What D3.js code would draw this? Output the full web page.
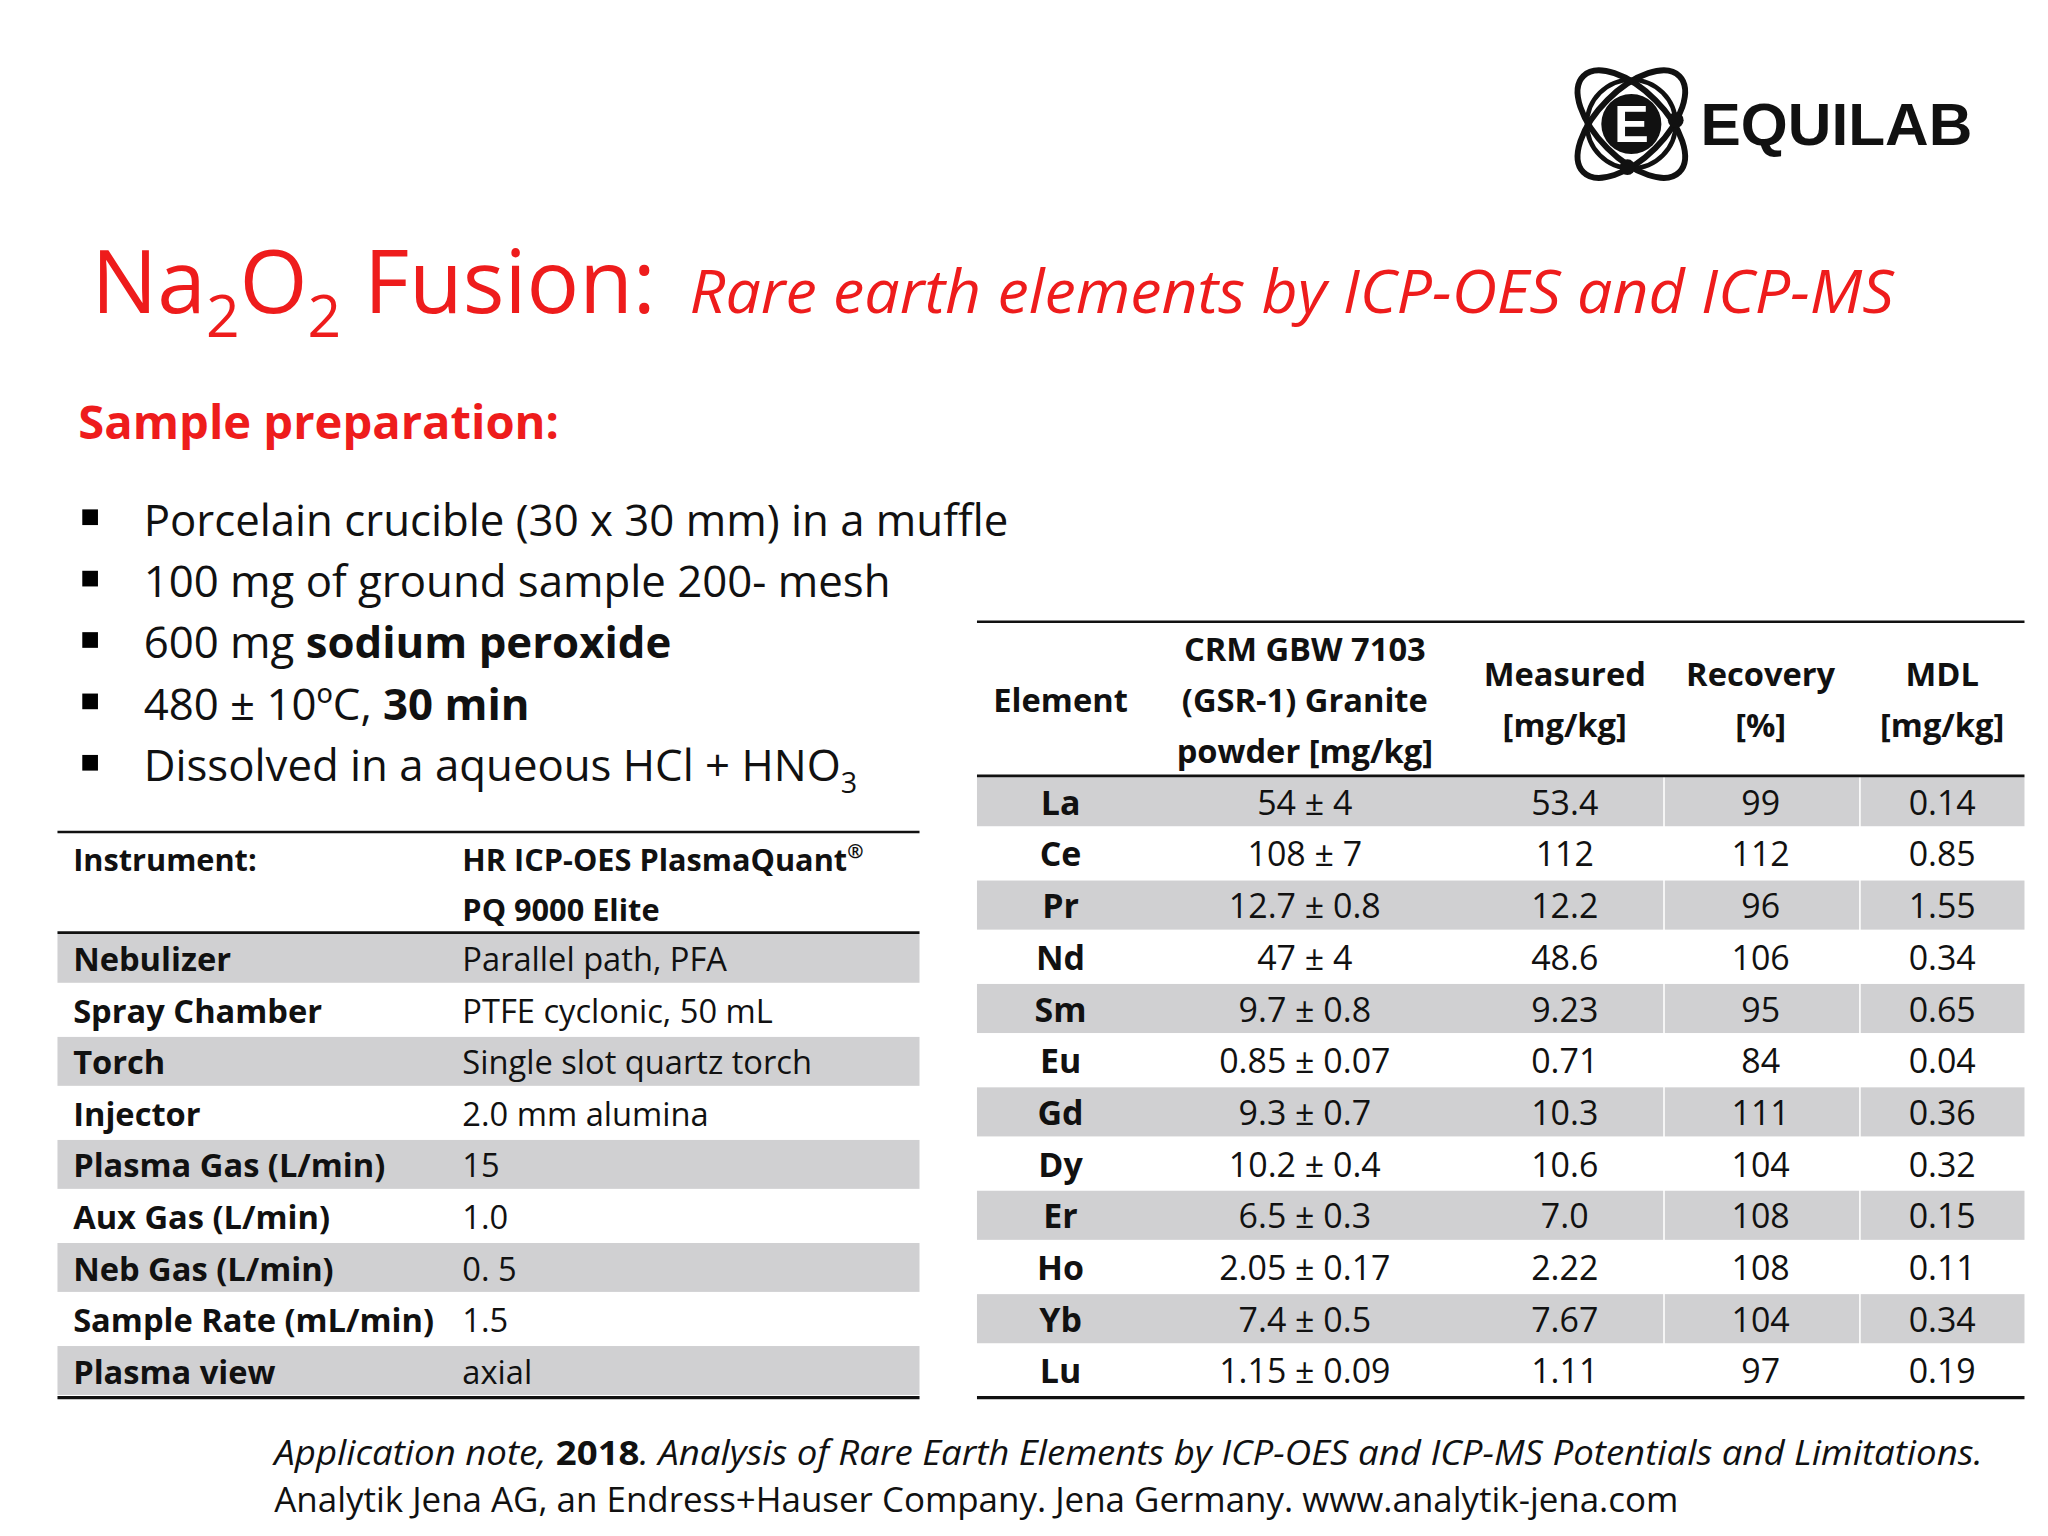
<!DOCTYPE html>
<html><head><meta charset="utf-8">
<script src="https://cdn.jsdelivr.net/npm/d3@7"></script>
<style>body{margin:0;background:#fff}svg{display:block}</style>
</head><body>
<script>
const bullets = [
  [["Porcelain crucible (30 x 30 mm)  in a muffle",false]],
  [["100 mg of ground sample 200- mesh",false]],
  [["600 mg ",false],["sodium peroxide",true]],
  [["480 ± 10ºC, ",false],["30 min",true]],
  [["Dissolved in a aqueous HCl + HNO",false],["3",false,"sub"]]
];
const instLabels = ["Nebulizer","Spray Chamber","Torch","Injector","Plasma Gas (L/min)","Aux Gas (L/min)","Neb Gas (L/min)","Sample Rate (mL/min)","Plasma view"];
const instValues = ["Parallel path, PFA","PTFE cyclonic, 50 mL","Single slot quartz torch","2.0 mm alumina","15","1.0","0. 5","1.5","axial"];
const elements = ["La","Ce","Pr","Nd","Sm","Eu","Gd","Dy","Er","Ho","Yb","Lu"];
const crm = ["54 ± 4","108 ± 7","12.7 ± 0.8","47 ± 4","9.7 ± 0.8","0.85 ± 0.07","9.3 ± 0.7","10.2 ± 0.4","6.5 ± 0.3","2.05 ± 0.17","7.4 ± 0.5","1.15 ± 0.09"];
const measured = ["53.4","112","12.2","48.6","9.23","0.71","10.3","10.6","7.0","2.22","7.67","1.11"];
const recovery = ["99","112","96","106","95","84","111","104","108","108","104","97"];
const mdl = ["0.14","0.85","1.55","0.34","0.65","0.04","0.36","0.32","0.15","0.11","0.34","0.19"];

const F = "'Open Sans', sans-serif";
const svg = d3.select("body").append("svg").attr("width",2048).attr("height",1536).attr("viewBox","0 0 1568 1176");
const red = "#ee1c1c";

// Logo
const lg = svg.append("g").attr("transform","translate(1249,95)");
[-45,45].forEach(a=>{
  lg.append("ellipse").attr("rx",52).attr("ry",26).attr("transform",`rotate(${a})`).attr("fill","none").attr("stroke","#111").attr("stroke-width",4.5);
});
lg.append("circle").attr("r",34).attr("fill","none").attr("stroke","#111").attr("stroke-width",3.5);
lg.append("circle").attr("r",23).attr("fill","#111");
lg.append("text").attr("y",14).attr("text-anchor","middle").attr("font-family","'Liberation Sans',Arial").attr("font-weight",900).attr("font-size",40).attr("fill","#fff").text("E");
lg.append("circle").attr("cx",34).attr("cy",-3).attr("r",6).attr("fill","#111");
lg.append("circle").attr("cx",-3).attr("cy",33).attr("r",6).attr("fill","#111");
svg.append("text").attr("x",1302).attr("y",111).attr("font-family","'Liberation Sans',Arial").attr("font-weight",900).attr("font-size",45).attr("fill","#111")
  .attr("textLength",208).attr("lengthAdjust","spacingAndGlyphs").text("EQUILAB");

// Title
const t = svg.append("text").attr("x",70).attr("y",240).attr("font-family",F).attr("fill",red);
t.append("tspan").attr("font-size",67).text("Na");
t.append("tspan").attr("font-size",45).attr("dy",18).text("2");
t.append("tspan").attr("font-size",67).attr("dy",-18).text("O");
t.append("tspan").attr("font-size",45).attr("dy",18).text("2");
t.append("tspan").attr("font-size",67).attr("dy",-18).text(" Fusion: ");
svg.append("text").attr("x",528).attr("y",240).attr("font-family",F).attr("fill",red).attr("font-size",46).attr("font-style","italic")
  .attr("textLength",922).attr("lengthAdjust","spacingAndGlyphs").text("Rare earth elements by ICP-OES and ICP-MS");

svg.append("text").attr("x",60).attr("y",336).attr("font-family",F).attr("font-weight",700).attr("font-size",35).attr("fill",red)
  .attr("textLength",368).attr("lengthAdjust","spacingAndGlyphs").text("Sample preparation:");

// Bullets
const by = d3.scalePoint().domain(d3.range(bullets.length)).range([410,598]);
bullets.forEach((parts,i)=>{
  svg.append("rect").attr("x",63).attr("y",by(i)-20).attr("width",12).attr("height",12).attr("fill","#000");
  const tx = svg.append("text").attr("x",110).attr("y",by(i)).attr("font-family",F).attr("font-size",33.5).attr("fill","#111");
  parts.forEach(([s,b,sub])=>{
    const sp = tx.append("tspan").text(s);
    if(b) sp.attr("font-weight",700);
    if(sub) sp.attr("font-size",22).attr("dy",9);
  });
});

// Left table
const L = {x0:44,x1:704,col2:354};
const ly = d3.scaleBand().domain(d3.range(instLabels.length)).range([714,1069]);
instLabels.forEach((lab,i)=>{
  if(i%2===0) svg.append("rect").attr("x",L.x0).attr("y",ly(i)+1).attr("width",L.x1-L.x0).attr("height",ly.bandwidth()-2).attr("fill","#d0d0d2");
  const cy = ly(i)+ly.bandwidth()/2+10;
  svg.append("text").attr("x",56).attr("y",cy).attr("font-family",F).attr("font-weight",700).attr("font-size",25).attr("fill","#111").text(lab);
  svg.append("text").attr("x",L.col2).attr("y",cy).attr("font-family",F).attr("font-size",25).attr("fill","#111").text(instValues[i]);
});
svg.append("text").attr("x",56).attr("y",667).attr("font-family",F).attr("font-weight",700).attr("font-size",23.5).attr("fill","#111").text("Instrument:");
const it = svg.append("text").attr("x",L.col2).attr("y",667).attr("font-family",F).attr("font-weight",700).attr("font-size",23.5).attr("fill","#111");
it.append("tspan").text("HR ICP-OES PlasmaQuant");
it.append("tspan").attr("font-size",15).attr("dy",-10).text("®");
svg.append("text").attr("x",L.col2).attr("y",705).attr("font-family",F).attr("font-weight",700).attr("font-size",23.5).attr("fill","#111").text("PQ 9000 Elite");
[637,714].forEach(y=>svg.append("line").attr("x1",L.x0).attr("x2",L.x1).attr("y1",y).attr("y2",y).attr("stroke","#111").attr("stroke-width",2));
svg.append("line").attr("x1",L.x0).attr("x2",L.x1).attr("y1",1070).attr("y2",1070).attr("stroke","#111").attr("stroke-width",2.5);

// Right table
const R = {x0:748,x1:1550};
const colCenters = [812,999,1198,1348,1487];
const sepX = [1274,1424];
const ry = d3.scaleBand().domain(elements).range([594,1069]);
const cols = [elements,crm,measured,recovery,mdl];
elements.forEach((el,i)=>{
  if(i%2===0){
    svg.append("rect").attr("x",R.x0).attr("y",ry(el)+1).attr("width",R.x1-R.x0).attr("height",ry.bandwidth()-2).attr("fill","#d0d0d2");
    sepX.forEach(x=>svg.append("line").attr("x1",x).attr("x2",x).attr("y1",ry(el)).attr("y2",ry(el)+ry.bandwidth()).attr("stroke","#fff").attr("stroke-width",1.2));
  }
  const cy = ry(el)+ry.bandwidth()/2+10;
  cols.forEach((c,j)=>{
    svg.append("text").attr("x",colCenters[j]).attr("y",cy).attr("text-anchor","middle").attr("font-family",F).attr("font-size",26).attr("font-weight",j===0?700:400).attr("fill","#111").text(c[i]);
  });
});
const headers = [["Element"],["CRM GBW 7103","(GSR-1) Granite","powder [mg/kg]"],["Measured","[mg/kg]"],["Recovery","[%]"],["MDL","[mg/kg]"]];
headers.forEach((h,j)=>{
  const mid = 545, lh = 39;
  h.forEach((s,k)=>{
    svg.append("text").attr("x",colCenters[j]).attr("y",mid+(k-(h.length-1)/2)*lh).attr("text-anchor","middle").attr("font-family",F).attr("font-weight",700).attr("font-size",25).attr("fill","#111").text(s);
  });
});
[476,594].forEach(y=>svg.append("line").attr("x1",R.x0).attr("x2",R.x1).attr("y1",y).attr("y2",y).attr("stroke","#111").attr("stroke-width",2));
svg.append("line").attr("x1",R.x0).attr("x2",R.x1).attr("y1",1070).attr("y2",1070).attr("stroke","#111").attr("stroke-width",2.5);

// Footer
const f1 = svg.append("text").attr("x",210).attr("y",1122).attr("font-family",F).attr("font-size",26).attr("fill","#111")
  .attr("textLength",1308).attr("lengthAdjust","spacingAndGlyphs");
f1.append("tspan").attr("font-style","italic").text("Application note, ");
f1.append("tspan").attr("font-weight",700).text("2018");
f1.append("tspan").attr("font-style","italic").text(". Analysis of Rare Earth Elements by ICP-OES and ICP-MS Potentials and Limitations.");
svg.append("text").attr("x",210).attr("y",1158).attr("font-family",F).attr("font-size",26).attr("fill","#111")
  .attr("textLength",1075).attr("lengthAdjust","spacingAndGlyphs").text("Analytik Jena AG, an Endress+Hauser Company. Jena Germany. www.analytik-jena.com");
</script>
</body></html>
